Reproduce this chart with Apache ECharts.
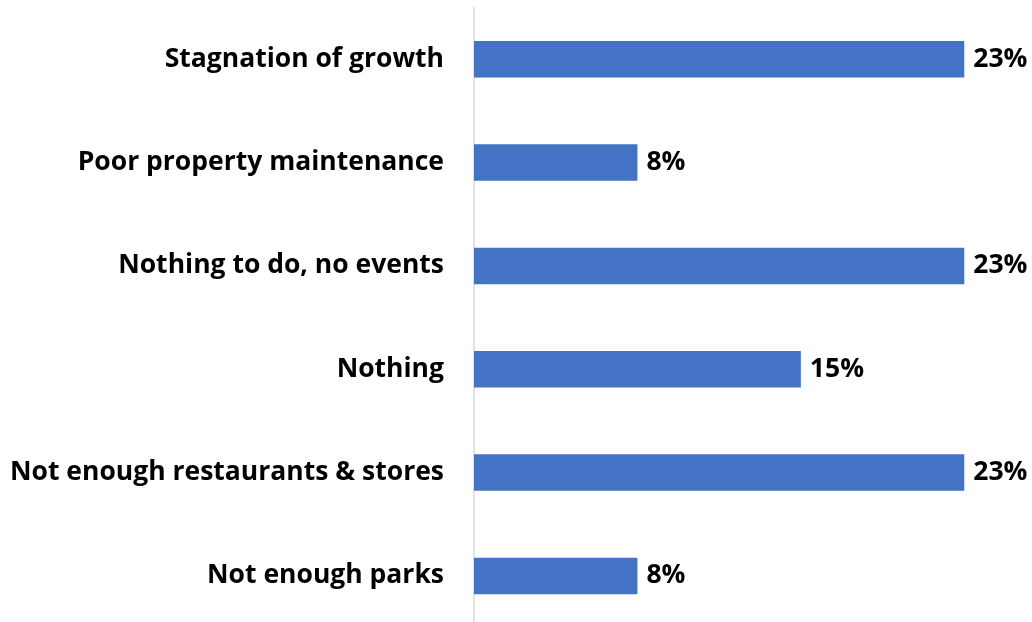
<!DOCTYPE html>
<html>
<head>
<meta charset="utf-8">
<script src="https://cdn.jsdelivr.net/npm/echarts@6/dist/echarts.min.js"></script>
<style>
  html, body { margin: 0; padding: 0; background: #ffffff; }
  #chart { width: 1032px; height: 622px; }
</style>
</head>
<body>
<div id="chart"></div>
<script>
// Reasons people gave, listed top to bottom
const categories = [
  'Stagnation of growth',
  'Poor property maintenance',
  'Nothing to do, no events',
  'Nothing',
  'Not enough restaurants & stores',
  'Not enough parks'
];
// Share of responses, in percent
const shares = [23.1, 7.7, 23.1, 15.4, 23.1, 7.7];

const FONT = '"Open Sans", sans-serif';
const chart = echarts.init(document.getElementById('chart'), null, { renderer: 'canvas' });

chart.setOption({
  animation: false,
  backgroundColor: '#ffffff',
  grid: {
    left: 474, top: 7.6, width: 530.6, height: 620,
    containLabel: false,
    outerBoundsMode: 'none'
  },
  xAxis: {
    type: 'value',
    min: 0,
    max: 25,
    show: false,
    splitLine: { show: false }
  },
  yAxis: {
    type: 'category',
    data: categories,
    inverse: true,
    axisLine: { show: true, lineStyle: { color: '#d9d9d9', width: 1.5 } },
    axisTick: { show: false },
    axisLabel: {
      margin: 30,
      color: '#000000',
      fontFamily: FONT,
      fontWeight: 'bold',
      fontSize: 26.5
    }
  },
  series: [{
    type: 'bar',
    data: shares,
    barWidth: 36.5,
    itemStyle: { color: '#4472C4' },
    label: {
      show: true,
      position: 'right',
      distance: 9,
      color: '#000000',
      fontFamily: FONT,
      fontWeight: 'bold',
      fontSize: 26.5,
      formatter: p => Math.round(p.value) + '%'
    }
  }]
});
</script>
</body>
</html>
